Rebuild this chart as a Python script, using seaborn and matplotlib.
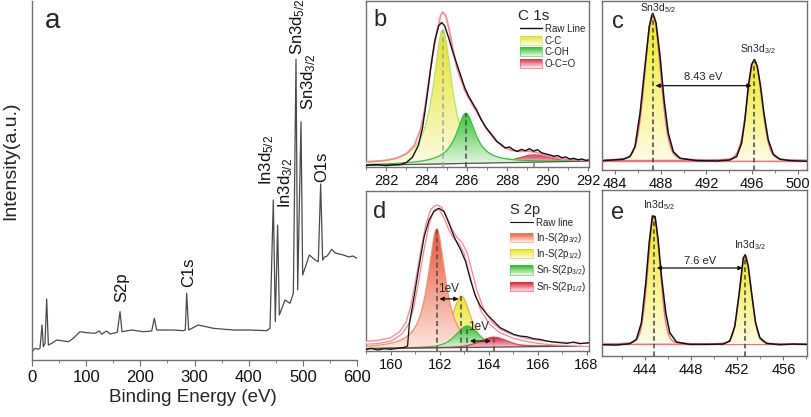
import numpy as np
import matplotlib
matplotlib.use("Agg")
import matplotlib.pyplot as plt
import seaborn as sns
from matplotlib.colors import LinearSegmentedColormap
from matplotlib.patches import PathPatch, Rectangle, Patch
from matplotlib.path import Path
from matplotlib.legend_handler import HandlerBase
from matplotlib.lines import Line2D
from matplotlib.ticker import MultipleLocator

# ---------------- data ----------------
# (a) survey spectrum
a_energy = [0, 5.5, 11.7, 14.8, 18.5, 20.9, 24, 27.1, 30.2, 36.3, 45.5, 54.8, 67.1, 76.3, 88.6,
            100.9, 116.3, 124.3, 128.6, 137.8, 144, 157.5, 162.5, 166.2, 184, 205.5, 221, 225.8,
            230.2, 261, 279.4, 283, 285.5, 289.2, 307, 334.8, 371.7, 402.5, 433.2, 439.4, 445.5,
            449.2, 453.5, 456.6, 467, 476.3, 482.5, 487.4, 490.5, 496.6, 499.7, 512, 522.5, 528.6,
            532.9, 536.6, 540, 545, 553.2, 560, 567, 574.8, 585, 592, 600]
a_counts = [8.3, 11.7, 10.7, 11.7, 35, 13.3, 16.7, 61, 15, 16.7, 20, 19.3, 18.3, 21.7, 28.3,
            27.3, 26.7, 29, 25.7, 29, 26, 27.7, 48.3, 28.3, 30, 28.3, 29, 41.7,
            30, 30, 29.3, 30, 66.7, 30, 35, 31.7, 30, 30, 29.3, 31.7, 160,
            38.3, 135, 45, 60, 56.7, 66.7, 300.7, 70, 238.3, 85, 105, 100, 98.3,
            176, 100, 103, 104, 110.7, 107, 106, 105, 103, 104, 101.7]
a_peak_labels = ["S2p", "C1s", "In3d$_{5/2}$", "In3d$_{3/2}$", "Sn3d$_{5/2}$", "Sn3d$_{3/2}$", "O1s"]
a_label_x = [165.5, 288.6, 433, 469, 490.5, 510, 534.8]
a_label_y = [58, 73, 175, 152, 305, 250, 178]

# (b) C 1s
b_raw_energy = [281.0, 281.5, 282.0, 282.3, 282.7, 283.0, 283.3, 283.6, 283.8, 284.0, 284.2, 284.4,
                284.6, 284.75, 284.9, 285.1, 285.3, 285.5, 285.7, 285.9, 286.1, 286.3, 286.5, 286.7,
                286.9, 287.1, 287.3, 287.5, 287.7, 287.9, 288.1, 288.3, 288.5, 288.7, 288.9, 289.1,
                289.3, 289.5, 289.7, 289.9, 290.1, 290.3, 290.5, 290.7, 290.9, 291.1, 291.3, 291.5,
                291.7, 291.9, 292.1]
b_raw = [5, 7, 4, 6, 7, 13, 28, 63, 113, 193, 283, 363, 408, 418, 408, 373, 333, 298, 263, 228,
         203, 183, 163, 138, 118, 103, 88, 73, 65, 55, 58, 50, 45, 51, 47, 53, 46, 50, 41, 38, 35,
         31, 33, 27, 29, 23, 25, 21, 23, 19, 21]
b_fit_energy = [281.0, 282.0, 282.5, 283.0, 283.4, 283.7, 283.9, 284.1, 284.3, 284.5, 284.7, 284.8,
                284.95, 285.1, 285.3, 285.5, 285.7, 285.9, 286.1, 286.4, 286.7, 287.0, 287.4, 287.8,
                288.2, 288.6, 289.0, 289.4, 289.8, 290.3, 290.8, 291.5, 292.1]
b_fit = [15, 19, 25, 38, 63, 108, 163, 243, 323, 388, 438, 448, 438, 403, 343, 288, 253, 221, 198,
         168, 138, 108, 78, 58, 48, 45, 46, 43, 35, 28, 23, 20, 18]
b_bg_energy = [281.0, 292.1]
b_bg = [5, 17]
b_names = ["C-C", "C-OH", "O-C=O"]
b_center = [284.8, 285.95, 289.3]
b_height = [388, 145, 21]
b_fwhm = [1.1, 1.15, 1.8]
b_eta = [0.95, 1.0, 0.3]

# (d) S 2p
d_raw_energy = [158.98, 159.19, 159.46, 159.73, 160.0, 160.27, 160.54, 160.68, 160.75, 160.95,
                161.15, 161.36, 161.56, 161.76, 161.97, 162.17, 162.37, 162.58, 162.71, 162.85,
                163.05, 163.25, 163.46, 163.66, 163.93, 164.2, 164.47, 164.75, 165.02, 165.29,
                165.56, 165.83, 166.1, 166.37, 166.64, 166.92, 167.19, 167.46, 167.73, 168.1]
d_raw = [5, 8, 3, 7, 5, 8, 11, 15, 80, 165, 255, 345, 395, 420, 430, 420, 385, 345, 325, 305,
         270, 215, 165, 135, 110, 90, 70, 60, 50, 45, 43, 37, 35, 30, 27, 25, 23, 27, 22, 25]
d_fit_energy = [158.98, 159.46, 160.0, 160.41, 160.68, 160.88, 161.08, 161.29, 161.49, 161.69,
                161.87, 162.03, 162.24, 162.44, 162.64, 162.85, 163.05, 163.25, 163.46, 163.73,
                164.07, 164.47, 165.02, 165.56, 166.1, 166.64, 167.19, 168.1]
d_fit = [25, 27, 35, 55, 85, 135, 215, 305, 380, 425, 435, 430, 400, 365, 340, 325, 295, 240,
         180, 125, 85, 60, 43, 33, 27, 23, 21, 18]
d_bg_energy = [158.98, 168.1]
d_bg = [7, 15]
d_names = ["In-S(2p$_{3/2}$)", "In-S(2p$_{1/2}$)", "Sn-S(2p$_{3/2}$)", "Sn-S(2p$_{1/2}$)"]
d_center = [161.87, 162.88, 163.12, 164.2]
d_height = [358, 155, 65, 30]
d_fwhm = [0.85, 0.92, 1.1, 1.3]
d_eta = [0.9, 0.6, 0.5, 0.4]

# (c) Sn 3d
c_raw_energy = [482.98, 484.73, 485.31, 485.75, 486.19, 486.62, 487.0, 487.29, 487.59, 487.94,
                488.29, 488.66, 489.1, 489.69, 491.14, 492.89, 494.06, 494.64, 495.08, 495.37,
                495.66, 495.95, 496.19, 496.45, 496.74, 497.03, 497.41, 497.85, 498.43, 499.31, 500.8]
c_raw = [28, 32, 40, 70, 170, 310, 430, 468, 440, 340, 210, 110, 55, 35, 28, 27, 30, 40, 80, 150,
         250, 315, 330, 310, 250, 170, 90, 47, 32, 28, 26]
c_bg = 28
c_names = ["Sn3d$_{5/2}$", "Sn3d$_{3/2}$"]
c_center = [487.3, 496.2]
c_height = [440, 302]
c_fwhm = [1.6, 1.5]
c_eta = [0.15, 0.15]
c_split = "8.43 eV"

# (e) In 3d
e_raw_energy = [440.39, 441.54, 442.7, 443.28, 443.71, 444.09, 444.38, 444.66, 444.9, 445.16,
                445.45, 445.82, 446.17, 446.75, 447.9, 449.35, 450.79, 451.37, 451.8, 452.18,
                452.53, 452.7, 452.96, 453.25, 453.6, 453.97, 454.55, 455.7, 456.86, 458.05]
e_raw = [34, 33, 37, 50, 100, 220, 340, 422, 420, 350, 240, 130, 70, 42, 35, 35, 36, 45, 90, 190,
         295, 305, 270, 190, 100, 55, 38, 34, 36, 35]
e_bg = 35
e_names = ["In3d$_{5/2}$", "In3d$_{3/2}$"]
e_center = [444.8, 452.72]
e_height = [385, 267]
e_fwhm = [1.25, 1.2]
e_eta = [0.15, 0.15]
e_split = "7.6 eV"

# ---------------- style ----------------
sns.set_style("ticks")
plt.rcParams["font.family"] = ["Liberation Sans", "DejaVu Sans"]
plt.rcParams["mathtext.fontset"] = "custom"
plt.rcParams["mathtext.rm"] = "Liberation Sans"
plt.rcParams["mathtext.it"] = "Liberation Sans:italic"
plt.rcParams["mathtext.bf"] = "Liberation Sans:bold"
SPINE = "#707070"

W, H = 811, 417
fig = plt.figure(figsize=(W / 100, H / 100), dpi=100)


def rect(l, r, t, b):
    return [l / W, 1 - b / H, (r - l) / W, (b - t) / H]


def pvoigt(x, c, h, w, eta):
    g = np.exp(-4 * np.log(2) * ((x - c) / w) ** 2)
    lor = 1 / (1 + 4 * ((x - c) / w) ** 2)
    return h * (eta * lor + (1 - eta) * g)


def grad_fill(ax, x, ytop, ybase, ctop, cbot, z):
    verts = np.column_stack([np.r_[x, x[::-1]], np.r_[ytop, ybase[::-1]]])
    patch = PathPatch(Path(verts), transform=ax.transData, facecolor="none", edgecolor="none")
    ax.add_patch(patch)
    cmap = LinearSegmentedColormap.from_list("g", [cbot, ctop])
    grad = np.linspace(0, 1, 256).reshape(-1, 1)
    im = ax.imshow(grad, cmap=cmap, aspect="auto", origin="lower",
                   extent=[x.min(), x.max(), ybase.min(), ytop.max()], zorder=z,
                   interpolation="bilinear")
    im.set_clip_path(patch)


def component(ax, x, base, c, h, w, eta, ctop, cbot, edge, z, lw=0.9):
    y = base + pvoigt(x, c, h, w, eta)
    grad_fill(ax, x, y, base, ctop, cbot, z)
    ax.plot(x, y, color=edge, lw=lw, zorder=z + 0.1)
    return y


class GradHandler(HandlerBase):
    def __init__(self, ctop, cbot, edge):
        super().__init__()
        self.ctop, self.cbot, self.edge = ctop, cbot, edge

    def create_artists(self, legend, orig_handle, xdescent, ydescent, width, height, fontsize, trans):
        cmap = LinearSegmentedColormap.from_list("g", [self.cbot, self.ctop])
        n = 12
        arts = []
        for i in range(n):
            arts.append(Rectangle((-xdescent, -ydescent + height * i / n), width, height / n * 1.05,
                                  facecolor=cmap(i / (n - 1)), edgecolor="none", transform=trans))
        arts.append(Rectangle((-xdescent, -ydescent), width, height, facecolor="none",
                              edgecolor=self.edge, lw=0.4, transform=trans))
        return arts


def style_small(ax, major, minor):
    for s in ax.spines.values():
        s.set_color(SPINE)
        s.set_linewidth(1.0)
    ax.set_yticks([])
    ax.xaxis.set_major_locator(MultipleLocator(major))
    ax.xaxis.set_minor_locator(MultipleLocator(minor))
    ax.tick_params(axis="x", which="major", direction="out", length=3, width=0.8, color=SPINE,
                   labelsize=10.5, pad=2, labelcolor="#111111")
    ax.tick_params(axis="x", which="minor", direction="out", length=2, width=0.6, color=SPINE)
    ax.set_xlabel("")
    ax.set_ylabel("")


# ---------------- panel a ----------------
axa = fig.add_axes(rect(32, 357, 1, 360))
sns.lineplot(x=a_energy, y=a_counts, ax=axa, color="#4a4a4a", lw=0.9, sort=False,
             estimator=None, legend=False)
axa.set_xlim(0, 600)
axa.set_ylim(0, 359)
axa.set_yticks([])
axa.xaxis.set_major_locator(MultipleLocator(100))
axa.xaxis.set_minor_locator(MultipleLocator(50))
axa.tick_params(axis="x", which="major", direction="out", length=4, width=0.8, color=SPINE,
                labelsize=12, pad=3, labelcolor="#111111")
axa.tick_params(axis="x", which="minor", direction="out", length=2.5, width=0.6, color=SPINE)
for side in ["top", "right"]:
    axa.spines[side].set_visible(False)
for side in ["left", "bottom"]:
    axa.spines[side].set_color(SPINE)
    axa.spines[side].set_linewidth(1.0)
axa.set_xlabel("")
axa.set_ylabel("")
for lab, lx, ly in zip(a_peak_labels, a_label_x, a_label_y):
    axa.text(lx, ly, lab, rotation=90, ha="center", va="bottom", fontsize=12, color="#111111")
axa.text(0.063, 0.945, "a", transform=axa.transAxes, fontsize=20, ha="center", va="center")
fig.text(193 / W, 1 - 397 / H, "Binding Energy (eV)", ha="center", va="center", fontsize=13.5)
fig.text(11 / W, 1 - 161 / H, "Intensity(a.u.)", ha="center", va="center", rotation=90, fontsize=14)

# ---------------- panel b ----------------
axb = fig.add_axes(rect(366, 589, 1, 167))
xb = np.linspace(281.0, 292.1, 600)
bg_b = np.interp(xb, b_bg_energy, b_bg)
b_cols = [("#e4e41c", "#fbfbe6", "#b8e070"), ("#36c436", "#e8f6e4", "#3cbf3c"),
          ("#e02c48", "#fbe6ea", "#e04460")]
order_b = [2, 0, 1]
for k, i in enumerate(order_b):
    ct, cb, ce = b_cols[i]
    component(axb, xb, bg_b, b_center[i], b_height[i], b_fwhm[i], b_eta[i], ct, cb, ce, 2 + k)
axb.plot(b_bg_energy, b_bg, color="#555555", lw=0.9, zorder=6)
sns.lineplot(x=b_fit_energy, y=b_fit, ax=axb, color="#f58a9a", lw=1.3, sort=False,
             estimator=None, legend=False, zorder=7)
sns.lineplot(x=b_raw_energy, y=b_raw, ax=axb, color="#111111", lw=1.0, sort=False,
             estimator=None, legend=False, zorder=8)
dash_cols_b = ["#a8a8a8", "#555555", "#888888"]
for i in range(3):
    top = np.interp(b_center[i], b_bg_energy, b_bg) + b_height[i]
    axb.plot([b_center[i], b_center[i]], [0, top], color=dash_cols_b[i], lw=1.2,
             ls=(0, (3, 2)), zorder=9)
axb.set_xlim(281.0, 292.05)
axb.set_ylim(0, 480)
style_small(axb, 2, 1)
axb.text(0.063, 0.886, "b", transform=axb.transAxes, fontsize=17, ha="center", va="center")
axb.text(0.682, 0.911, "C 1s", transform=axb.transAxes, fontsize=11, ha="left", va="center")
hb = [Line2D([], [], color="#111111", lw=1.0)] + [Patch() for _ in b_names]
hmap_b = {hb[j + 1]: GradHandler(b_cols[j][0], b_cols[j][1], b_cols[j][2]) for j in range(3)}
axb.legend(hb, ["Raw Line"] + b_names, handler_map=hmap_b, loc="upper left",
           bbox_to_anchor=(0.69, 0.86), frameon=False, fontsize=7, handlelength=2.3,
           handleheight=1.05, labelspacing=0.15, handletextpad=0.25, borderpad=0,
           borderaxespad=0)

# ---------------- panel d ----------------
axd = fig.add_axes(rect(366, 589, 191, 351))
xd = np.linspace(158.98, 168.1, 600)
bg_d = np.interp(xd, d_bg_energy, d_bg)
d_cols = [("#e8543a", "#fde6dc", "#f09070"), ("#e6e620", "#fbfbe4", "#f0b050"),
          ("#30c030", "#e6f6e0", "#44bb44"), ("#e0203c", "#fbe4e8", "#e04050")]
order_d = [1, 0, 2, 3]
for k, i in enumerate(order_d):
    ct, cb, ce = d_cols[i]
    component(axd, xd, bg_d, d_center[i], d_height[i], d_fwhm[i], d_eta[i], ct, cb, ce, 2 + k)
axd.plot(d_bg_energy, d_bg, color="#555555", lw=0.9, zorder=6)
sns.lineplot(x=d_fit_energy, y=d_fit, ax=axd, color="#f58a9a", lw=3.2, sort=False,
             estimator=None, legend=False, zorder=7)
sns.lineplot(x=d_fit_energy, y=d_fit, ax=axd, color="white", lw=1.3, sort=False,
             estimator=None, legend=False, zorder=7.1)
sns.lineplot(x=d_raw_energy, y=d_raw, ax=axd, color="#111111", lw=0.9, sort=False,
             estimator=None, legend=False, zorder=8)
for i in range(4):
    top = np.interp(d_center[i], d_bg_energy, d_bg) + d_height[i]
    axd.plot([d_center[i], d_center[i]], [0, top], color="#555555", lw=1.2,
             ls=(0, (3, 2)), zorder=9)
axd.annotate("", xy=(d_center[0], 157), xytext=(d_center[1], 157),
             arrowprops=dict(arrowstyle="<|-|>", color="#111111", lw=0.9, mutation_scale=6), zorder=10)
axd.text(d_center[0] + 0.05, 187, "1eV", fontsize=8.5, ha="left", va="center", zorder=10)
axd.annotate("", xy=(d_center[2], 30), xytext=(d_center[3], 30),
             arrowprops=dict(arrowstyle="<|-|>", color="#111111", lw=0.9, mutation_scale=6), zorder=10)
axd.text(d_center[2] + 0.05, 72, "1eV", fontsize=8.5, ha="left", va="center", zorder=10)
axd.set_xlim(158.98, 168.1)
axd.set_ylim(0, 482)
style_small(axd, 2, 1)
axd.text(0.061, 0.867, "d", transform=axd.transAxes, fontsize=17, ha="center", va="center")
axd.text(0.646, 0.88, "S 2p", transform=axd.transAxes, fontsize=10.5, ha="left", va="center")
hd = [Line2D([], [], color="#111111", lw=0.8)] + [Patch() for _ in d_names]
hmap_d = {hd[j + 1]: GradHandler(d_cols[j][0], d_cols[j][1], d_cols[j][2]) for j in range(4)}
axd.legend(hd, ["Raw line"] + d_names, handler_map=hmap_d, loc="upper left",
           bbox_to_anchor=(0.646, 0.83), frameon=False, fontsize=7, handlelength=2.4,
           handleheight=1.1, labelspacing=0.25, handletextpad=0.25, borderpad=0,
           borderaxespad=0)


# ---------------- panels c and e ----------------
def doublet(ax, raw_x, raw_y, bg, centers, heights, fwhms, etas, names, split, xlim, ylim,
            label_xy, arrow_y, split_y, letter_xy, letter):
    x = np.linspace(xlim[0], xlim[1], 800)
    base = np.full_like(x, bg, dtype=float)
    ax.plot(xlim, [bg, bg], color="#f07888", lw=1.0, zorder=2)
    for i in range(2):
        component(ax, x, base, centers[i], heights[i], fwhms[i], etas[i], "#ecec14", "#fffbe8",
                  "#f07080", 3 + i, lw=1.0)
    sns.lineplot(x=raw_x, y=raw_y, ax=ax, color="#111111", lw=1.1, sort=False,
                 estimator=None, legend=False, zorder=6)
    for i in range(2):
        ax.plot([centers[i], centers[i]], [0, bg + heights[i]], color="#444444", lw=1.1,
                ls=(0, (3, 2)), zorder=7)
        ax.text(label_xy[i][0], label_xy[i][1], names[i], fontsize=7.5, ha="center",
                va="center", zorder=8)
    ax.annotate("", xy=(centers[0], arrow_y), xytext=(centers[1], arrow_y),
                arrowprops=dict(arrowstyle="<|-|>", color="#111111", lw=0.9, mutation_scale=6),
                zorder=8)
    ax.text((centers[0] + centers[1]) / 2, split_y, split, fontsize=8, ha="center",
            va="center", zorder=8)
    ax.set_xlim(*xlim)
    ax.set_ylim(*ylim)
    style_small(ax, 4, 2)
    ax.text(letter_xy[0], letter_xy[1], letter, transform=ax.transAxes, fontsize=17,
            ha="center", va="center")


axc = fig.add_axes(rect(602, 807, 1, 170))
doublet(axc, c_raw_energy, c_raw, c_bg, c_center, c_height, c_fwhm, c_eta, c_names, c_split,
        (482.86, 500.8), (0, 505), [(487.8, 485), (496.5, 360)], 252, 278, (0.076, 0.873), "c")

axe = fig.add_axes(rect(602, 807, 190, 356))
doublet(axe, e_raw_energy, e_raw, e_bg, e_center, e_height, e_fwhm, e_eta, e_names, e_split,
        (440.3, 458.05), (0, 500), [(445.2, 455), (453.1, 335)], 265, 285, (0.076, 0.86), "e")

fig.savefig("out.png", dpi=100)
